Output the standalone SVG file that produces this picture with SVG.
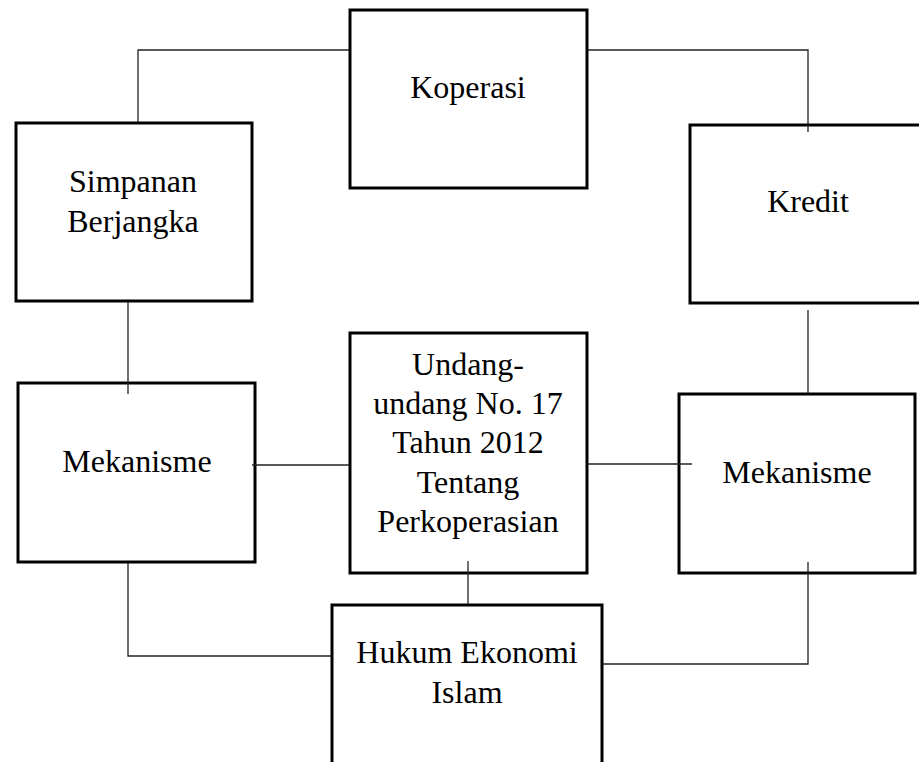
<svg xmlns="http://www.w3.org/2000/svg" width="919" height="762" viewBox="0 0 919 762">
<style>
.box{fill:#fff;stroke:#000;stroke-width:3}
.lbl{font-family:"Liberation Serif","Times New Roman",serif;font-size:32px;fill:#000;text-anchor:middle}
.con{fill:none;stroke:#222;stroke-width:1.3}
</style>
<rect width="919" height="762" fill="#fff"/>
<g id="koperasi">
<rect class="box" x="350" y="10" width="237" height="178"/>
<text class="lbl" x="468" y="98">Koperasi</text>
</g>
<g id="simpanan">
<rect class="box" x="16" y="123" width="236" height="178"/>
<text class="lbl" x="133" y="192">Simpanan</text>
<text class="lbl" x="133" y="232">Berjangka</text>
</g>
<g id="kredit">
<rect class="box" x="690" y="125" width="240" height="178"/>
<text class="lbl" x="808" y="212">Kredit</text>
</g>
<g id="mekanisme-kiri">
<rect class="box" x="18" y="383" width="237" height="179"/>
<text class="lbl" x="137" y="472">Mekanisme</text>
</g>
<g id="undang">
<rect class="box" x="350" y="333" width="237" height="240"/>
<text class="lbl" x="468" y="375">Undang-</text>
<text class="lbl" x="468" y="414">undang No. 17</text>
<text class="lbl" x="468" y="453">Tahun 2012</text>
<text class="lbl" x="468" y="493">Tentang</text>
<text class="lbl" x="468" y="532">Perkoperasian</text>
</g>
<g id="mekanisme-kanan">
<rect class="box" x="679" y="394" width="236" height="179"/>
<text class="lbl" x="797" y="483">Mekanisme</text>
</g>
<g id="hukum">
<rect class="box" x="332" y="605" width="270" height="180"/>
<text class="lbl" x="467" y="663">Hukum Ekonomi</text>
<text class="lbl" x="467" y="703">Islam</text>
</g>
<g id="connectors">
<polyline class="con" points="349,50 138,50 138,122"/>
<polyline class="con" points="588,50 808,50 808,132"/>
<line class="con" x1="128" y1="302" x2="128" y2="394"/>
<line class="con" x1="808" y1="310" x2="808" y2="393"/>
<line class="con" x1="252" y1="465" x2="349" y2="465"/>
<line class="con" x1="588" y1="464" x2="692" y2="464"/>
<line class="con" x1="468" y1="561" x2="468" y2="604"/>
<polyline class="con" points="128,563 128,656 331,656"/>
<polyline class="con" points="808,562 808,664 603,664"/>
</g>
</svg>
